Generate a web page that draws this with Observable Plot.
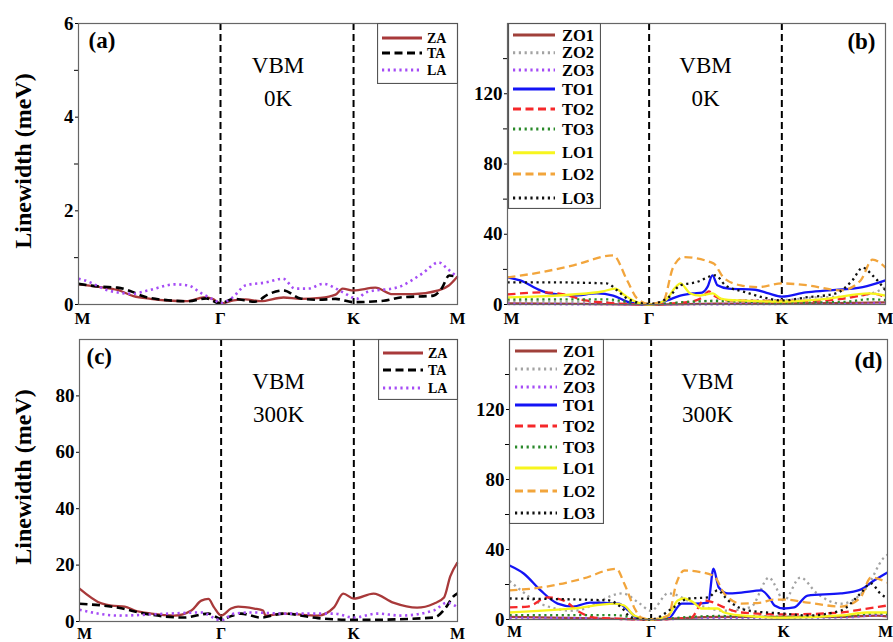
<!DOCTYPE html>
<html><head><meta charset="utf-8">
<script src="https://cdn.jsdelivr.net/npm/d3@7"></script>
<script src="https://cdn.jsdelivr.net/npm/@observablehq/plot@0.6"></script>
<style>
body{margin:0;background:#fff;}
#wrap{position:relative;width:893px;height:642px;overflow:hidden;font-family:"Liberation Serif",serif;background:#fff;}
.panel{position:absolute;}
.ylab{position:absolute;font-weight:bold;font-size:24px;white-space:nowrap;transform:translate(-50%,-50%) rotate(-90deg);}
</style></head><body><div id="wrap"></div>
<script>
// ---- k-path (x): segment index 0..3 = M, Γ, K, M ----
const pathTicks = [0, 1, 2, 3];
const pathLabels = ["M", "Γ", "K", "M"];
const segmentLengths = [1.0, 0.937, 0.732]; // relative lengths of M-Γ, Γ-K, K-M on the plot
const symLines = [1, 2]; // Γ and K

const acousticNames = ["ZA", "TA", "LA"];
const opticalNames = ["ZO1", "ZO2", "ZO3", "TO1", "TO2", "TO3", "LO1", "LO2", "LO3"];

// ---- Panel (a): VBM 0K, acoustic ----
const a_ZA = [[0,0.43],[0.155,0.37],[0.275,0.31],[0.387,0.18],[0.507,0.12],[0.627,0.085],[0.768,0.07],[0.88,0.15],[0.944,0.12],[1,0.02],[1.098,0.09],[1.188,0.11],[1.30,0.07],[1.474,0.15],[1.60,0.12],[1.75,0.14],[1.865,0.21],[1.917,0.34],[2,0.30],[2.21,0.36],[2.375,0.22],[2.567,0.22],[2.817,0.30],[2.913,0.40],[3,0.60]];
const a_TA = [[0,0.44],[0.155,0.38],[0.275,0.36],[0.38,0.27],[0.44,0.19],[0.63,0.09],[0.77,0.07],[0.9,0.13],[1,0.02],[1.098,0.12],[1.26,0.06],[1.36,0.22],[1.474,0.30],[1.60,0.13],[1.73,0.10],[1.865,0.12],[2,0.05],[2.29,0.08],[2.45,0.15],[2.77,0.19],[2.85,0.35],[2.92,0.62],[3,0.58]];
const a_LA = [[0,0.55],[0.05,0.51],[0.21,0.30],[0.38,0.23],[0.49,0.30],[0.68,0.43],[0.77,0.41],[0.87,0.23],[0.96,0.09],[1,0.03],[1.09,0.15],[1.19,0.41],[1.34,0.47],[1.47,0.55],[1.56,0.34],[1.66,0.34],[1.77,0.44],[1.92,0.26],[2,0.14],[2.03,0.12],[2.12,0.26],[2.43,0.37],[2.66,0.66],[2.82,0.90],[2.9,0.77],[3,0.58]];

// ---- Panel (b): VBM 0K, optical ----
const b_ZO1 = [[0,0.6],[0.5,0.4],[1,0],[1.5,0.5],[2,0.6],[2.5,0.8],[3,1.2]];
const b_ZO2 = [[0,2],[0.4,1.5],[0.8,1.2],[1,0],[1.3,1.5],[1.6,2.5],[2,2.5],[2.3,4],[2.6,4.5],[2.85,6],[3,10]];
const b_ZO3 = [[0,0.3],[1,0],[2,0.3],[3,0.6]];
const b_TO1 = [[0,15.4],[0.09,13.7],[0.232,8],[0.3,6.3],[0.465,5.1],[0.63,6.3],[0.746,5.1],[0.866,1.1],[1,0],[1.136,2.3],[1.235,5.1],[1.33,6.3],[1.4,6.8],[1.44,10],[1.477,16.6],[1.515,10.9],[1.6,9],[1.8,8.4],[1.9,6.3],[2,4.5],[2.23,6.9],[2.45,8],[2.78,9.9],[3,13.7]];
const b_TO2 = [[0,5.7],[0.26,6.9],[0.4,5.7],[0.55,2.3],[0.69,1.1],[1,0],[1.3,1.5],[1.4,4],[1.45,7.5],[1.5,4.5],[1.6,2.3],[2,2],[2.4,2.2],[2.6,3.4],[2.77,5.1],[2.87,6.3],[3,4]];
const b_TO3 = [[0,2.9],[0.7,2.9],[0.85,1.5],[1,0],[1.3,1.5],[1.5,2],[2,1],[2.6,1.5],[2.85,3],[3,2.5]];
const b_LO1 = [[0,4],[0.22,4.6],[0.46,5.7],[0.67,7.4],[0.76,9],[0.83,5.1],[0.92,1.1],[1,0],[1.12,2.3],[1.2,9.9],[1.235,12],[1.31,6.3],[1.385,5.1],[1.48,6.3],[1.54,3.4],[1.67,2.3],[2,1.7],[2.45,3.4],[2.84,6.3],[3,5.1]];
const b_LO2 = [[0,15.4],[0.232,18.3],[0.465,22.3],[0.746,28],[0.845,13.7],[0.915,3.4],[1,0.3],[1.106,2],[1.18,21],[1.258,27],[1.485,23.4],[1.56,15.4],[1.69,10.9],[1.82,9.9],[2,12],[2.25,10.9],[2.57,8],[2.76,13.7],[2.875,25.5],[3,21]];
const b_LO3 = [[0,12.6],[0.3,12.6],[0.7,12],[0.775,8],[0.845,3.4],[1,0.3],[1.136,3.4],[1.235,10.9],[1.35,12.6],[1.5,16.6],[1.575,10.9],[1.73,6.9],[1.86,4],[2,2.3],[2.23,4],[2.52,6.3],[2.68,13.7],[2.78,21],[2.875,16.6],[3,8]];

// ---- Panel (c): VBM 300K, acoustic ----
const c_ZA = [[0,11.7],[0.155,6.4],[0.225,5.6],[0.32,5.3],[0.39,3.9],[0.507,2.8],[0.67,2.1],[0.79,3.9],[0.86,7.4],[0.91,8.0],[0.95,5.0],[1,2.1],[1.075,4.6],[1.128,5.3],[1.25,4.6],[1.316,3.9],[1.335,2.1],[1.47,2.8],[1.73,2.1],[1.85,5.0],[1.92,9.9],[2,8.1],[2.19,9.9],[2.38,6.7],[2.61,4.9],[2.77,6.3],[2.87,8.5],[2.93,16],[3,21]];
const c_TA = [[0,6.3],[0.275,4.9],[0.46,2.8],[0.74,1.4],[0.91,2.8],[1,1.0],[1.15,2.8],[1.3,1.4],[1.47,2.8],[1.73,1.2],[2,0.6],[2.13,0.6],[2.77,1.4],[2.9,5.6],[2.95,8.5],[3,10]];
const c_LA = [[0,4.2],[0.275,2.1],[0.63,2.8],[0.86,3.2],[1,0.4],[1.098,2.8],[1.23,3.2],[1.47,2.8],[1.85,2.8],[2,1.4],[2.23,2.8],[2.45,2.1],[2.77,3.9],[2.9,6.7],[3,5.0]];

// ---- Panel (d): VBM 300K, optical ----
const d_ZO1 = [[0,1.5],[0.5,0.8],[1,0],[1.5,1.5],[2,1.5],[2.5,1.5],[2.9,2.2],[3,1.8]];
const d_ZO2 = [[0,22],[0.06,18],[0.22,9],[0.45,5],[0.8,14.9],[0.91,9.7],[1,5],[1.13,15],[1.33,9],[1.55,5],[1.75,7],[1.89,24],[1.93,20],[2,10.9],[2.16,24],[2.32,14.9],[2.55,9],[2.8,18.3],[2.96,35],[3,37]];
const d_ZO3 = [[0,1],[0.5,0.8],[1,0],[1.5,1],[2,1],[2.6,1.2],[2.9,2.5],[3,2]];
const d_TO1 = [[0,30.9],[0.1,26.3],[0.22,16.6],[0.34,9.1],[0.45,7.4],[0.57,9.7],[0.77,9.1],[0.84,5.1],[0.91,0.6],[1,0],[1.13,0.6],[1.23,9.1],[1.33,9.1],[1.43,9.7],[1.47,29],[1.51,18.3],[1.58,14.9],[1.68,15.4],[1.83,16.6],[1.89,12.6],[1.93,8],[2,6.3],[2.1,6.9],[2.23,13.7],[2.55,14.9],[2.74,17.1],[2.87,22.3],[3,26.9]];
const d_TO2 = [[0,6.9],[0.13,7.4],[0.27,12.6],[0.38,10.9],[0.5,4],[0.6,1.1],[1,0],[1.3,1.1],[1.4,10.9],[1.47,9.7],[1.55,6.9],[1.68,4],[2,2.9],[2.55,4],[2.74,5.7],[3,8]];
const d_TO3 = [[0,2.5],[0.75,2.5],[0.88,1],[1,0],[1.3,1.5],[1.5,2],[2,1.5],[2.6,2],[2.9,3.5],[3,3]];
const d_LO1 = [[0,4],[0.45,6.3],[0.74,9.1],[0.81,8],[0.88,2.3],[1,0],[1.13,2.3],[1.2,10.9],[1.25,12],[1.32,9.7],[1.38,6.3],[1.5,6.3],[1.55,4],[1.68,2.3],[2,1],[2.55,2.3],[2.8,4],[3,4]];
const d_LO2 = [[0,16.6],[0.22,18.3],[0.52,23.4],[0.755,29],[0.81,20.6],[0.88,6.9],[0.93,1.1],[1,0],[1.13,2.3],[1.19,20.6],[1.25,28],[1.47,25.1],[1.55,14.9],[1.68,9.1],[1.83,9.7],[1.92,11.4],[2,11.4],[2.23,9.7],[2.55,7.4],[2.74,12.6],[2.84,24],[3,21.1]];
const d_LO3 = [[0,12],[0.7,10.9],[0.79,6.9],[0.86,1.1],[1,0],[1.17,6.9],[1.28,12],[1.43,12.6],[1.5,16.6],[1.58,10.9],[1.73,5.1],[2,3.4],[2.23,2.3],[2.55,5.1],[2.74,14.9],[2.84,20.6],[2.93,14.9],[3,12]];

// ---- y-axis ticks ----
const aTicks = [0, 2, 4, 6], aMinor = [1, 3, 5];
const bTicks = [0, 40, 80, 120], bMinor = [20, 60, 100, 140];
const cTicks = [0, 20, 40, 60, 80], cMinor = [];
const dTicks = [0, 40, 80, 120], dMinor = [20, 60, 100, 140];

// segment index -> cumulative k-path distance
const cum = [0];
segmentLengths.forEach((l, i) => cum.push(cum[i] + l));
const kpos = q => {
  const i = Math.min(2, Math.floor(q));
  return cum[i] + (q - i) * segmentLengths[i];
};

// ---- styles (not data) ----
const DOT = "2.2,3.6", DASH = "8,4.5";
const styles = {
  ZA: {stroke: "#a8393a", width: 2.3},
  TA: {stroke: "#000000", width: 2.6, dash: DASH},
  LA: {stroke: "#a54cf5", width: 2.6, dash: DOT},
  ZO1: {stroke: "#a0403a", width: 2.3},
  ZO2: {stroke: "#a3a3a3", width: 2.3, dash: DOT},
  ZO3: {stroke: "#a54cf5", width: 2.3, dash: DOT},
  TO1: {stroke: "#1414f5", width: 2.3},
  TO2: {stroke: "#f5282a", width: 2.3, dash: DASH},
  TO3: {stroke: "#2a8a2a", width: 2.3, dash: DOT},
  LO1: {stroke: "#f7f51e", width: 2.3},
  LO2: {stroke: "#f2a53c", width: 2.3, dash: DASH},
  LO3: {stroke: "#111111", width: 2.3, dash: DOT}
};

const panels = [
  {id: "a", series: {ZA: a_ZA, TA: a_TA, LA: a_LA}, names: acousticNames, yMax: 6, ticks: aTicks, minor: aMinor, temp: "0K",
   box: {left: 0, top: 0, width: 460, height: 330}, m: {l: 78, r: 3, t: 23, b: 26}, xpad: 7, xfs: 17, firstDx: 4, lastDx: 0,
   tagAnchor: "top-left", tagDx: 10, tagDy: 8, txtDx: 10,
   legend: {left: 377, top: 23, width: 80, height: 60, rows: [15, 30, 47], x1: 5, x2: 45, tx: 50, fs: 14, lw: 3}},
  {id: "b", series: {ZO1: b_ZO1, ZO2: b_ZO2, ZO3: b_ZO3, TO1: b_TO1, TO2: b_TO2, TO3: b_TO3, LO1: b_LO1, LO2: b_LO2, LO3: b_LO3}, names: opticalNames, yMax: 160, ticks: bTicks, minor: bMinor, temp: "0K",
   box: {left: 430, top: 0, width: 463, height: 330}, m: {l: 77, r: 8, t: 23, b: 26}, xpad: 7, xfs: 17, firstDx: 4, lastDx: 0,
   tagAnchor: "top-right", tagDx: -10, tagDy: 9, txtDx: 9,
   legend: {left: 508, top: 23, width: 92, height: 185, rows: [12, 29.7, 47, 66, 86, 106, 129.7, 151, 175], x1: 5, x2: 47, tx: 54, fs: 16.5, lw: 3}},
  {id: "c", series: {ZA: c_ZA, TA: c_TA, LA: c_LA}, names: acousticNames, yMax: 100, ticks: cTicks, minor: cMinor, temp: "300K",
   box: {left: 0, top: 320, width: 460, height: 322}, m: {l: 79, r: 3, t: 19, b: 21}, xpad: 6, xfs: 16, firstDx: 5, lastDx: 0,
   tagAnchor: "top-left", tagDx: 7, tagDy: 8, txtDx: 10,
   legend: {left: 378, top: 339, width: 79, height: 60, rows: [14, 31, 49], x1: 5, x2: 45, tx: 50, fs: 14, lw: 3}},
  {id: "d", series: {ZO1: d_ZO1, ZO2: d_ZO2, ZO3: d_ZO3, TO1: d_TO1, TO2: d_TO2, TO3: d_TO3, LO1: d_LO1, LO2: d_LO2, LO3: d_LO3}, names: opticalNames, yMax: 160, ticks: dTicks, minor: dMinor, temp: "300K",
   box: {left: 430, top: 320, width: 463, height: 322}, m: {l: 79, r: 6, t: 19, b: 23}, xpad: 6, xfs: 16, firstDx: 5, lastDx: -2,
   tagAnchor: "top-right", tagDx: -5, tagDy: 12, txtDx: 9,
   legend: {left: 509, top: 339, width: 94, height: 184, rows: [12, 30, 48, 66, 87, 108, 129, 152, 174], x1: 6, x2: 48, tx: 54, fs: 16.5, lw: 3}}
];

const wrap = document.getElementById("wrap");

for (const p of panels) {
  const marks = [];
  marks.push(Plot.axisY({ticks: p.ticks, tickSize: 3, tickPadding: 2, tickFormat: d => String(d), fontSize: 19, fontWeight: "bold", label: null}));
  if (p.minor.length) marks.push(Plot.axisY({ticks: p.minor, tickSize: 4, tickFormat: () => "", label: null}));
  // k-path labels along the bottom edge (end labels nudged so they stay clear of the y labels / page edge)
  const xLab = pathTicks.map((t, i) => ({x: kpos(t), label: pathLabels[i], i}));
  const xText = (rows, dx) => Plot.text(rows, {x: "x", text: "label", frameAnchor: "bottom", lineAnchor: "top",
    dy: p.xpad, dx, fontSize: p.xfs, fontWeight: "bold", textAnchor: "middle"});
  marks.push(xText(xLab.filter(d => d.i === 0), p.firstDx));
  marks.push(xText(xLab.filter(d => d.i > 0 && d.i < 3), 0));
  marks.push(xText(xLab.filter(d => d.i === 3), p.lastDx));
  marks.push(Plot.ruleX(symLines.map(kpos), {stroke: "#000", strokeWidth: 2, strokeDasharray: "7,4"}));
  for (const name of p.names) {
    const s = styles[name];
    marks.push(Plot.line(p.series[name], {x: d => kpos(d[0]), y: d => d[1], stroke: s.stroke, strokeWidth: s.width,
      strokeDasharray: s.dash || null, curve: "monotone-x", strokeLinecap: "butt"}));
  }
  marks.push(Plot.frame({stroke: "#666", strokeWidth: 1.2}));
  marks.push(Plot.text([`(${p.id})`], {frameAnchor: p.tagAnchor, textAnchor: p.tagAnchor === "top-left" ? "start" : "end", lineAnchor: "top",
    dx: p.tagDx, dy: p.tagDy, fontSize: 23, fontWeight: "bold"}));
  marks.push(Plot.text([`VBM\n${p.temp}`], {frameAnchor: "top", textAnchor: "middle", lineAnchor: "top", lineHeight: 1.4,
    dx: p.txtDx, dy: 27, fontSize: 23}));

  const svg = Plot.plot({
    width: p.box.width, height: p.box.height,
    marginLeft: p.m.l, marginRight: p.m.r, marginTop: p.m.t, marginBottom: p.m.b,
    x: {domain: [0, cum[3]], label: null, axis: null},
    y: {domain: [0, p.yMax], label: null},
    style: {background: "transparent", fontFamily: "'Liberation Serif', serif", color: "#000", overflow: "visible"},
    marks
  });
  svg.classList.add("panel");
  svg.style.left = p.box.left + "px";
  svg.style.top = p.box.top + "px";
  svg.style.position = "absolute";
  wrap.appendChild(svg);

  // legend box
  const L = p.legend;
  const lg = d3.select(wrap).append("svg").attr("class", "panel")
    .style("left", L.left + "px").style("top", L.top + "px")
    .attr("width", L.width + 1).attr("height", L.height + 1).style("position", "absolute");
  lg.append("rect").attr("x", 0.5).attr("y", 0.5).attr("width", L.width).attr("height", L.height)
    .attr("fill", "#fff").attr("stroke", "#555").attr("stroke-width", 1.2);
  p.names.forEach((name, i) => {
    const s = styles[name];
    const y = L.rows[i];
    lg.append("line").attr("x1", L.x1).attr("x2", L.x2).attr("y1", y).attr("y2", y)
      .attr("stroke", s.stroke).attr("stroke-width", L.lw).attr("stroke-dasharray", s.dash || null);
    lg.append("text").attr("x", L.tx).attr("y", y).attr("dy", "0.35em")
      .attr("font-family", "'Liberation Serif', serif").attr("font-weight", "bold").attr("font-size", L.fs)
      .text(name);
  });
}

// y-axis titles
for (const cy of [161, 477]) {
  const div = document.createElement("div");
  div.className = "ylab";
  div.style.left = "23px";
  div.style.top = cy + "px";
  div.textContent = "Linewidth (meV)";
  wrap.appendChild(div);
}
</script>
</body></html>
